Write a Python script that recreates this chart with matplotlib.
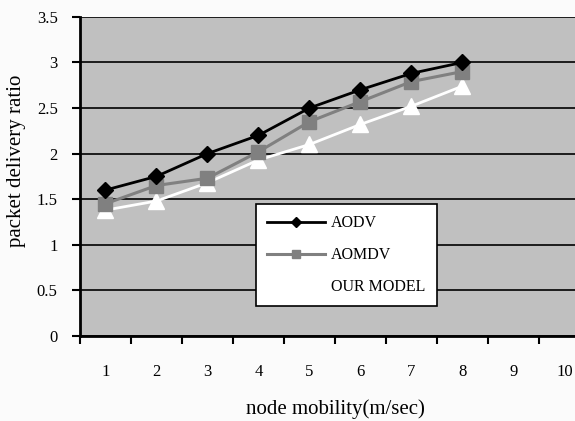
import matplotlib.pyplot as plt

mobility = [1, 2, 3, 4, 5, 6, 7, 8]
categories = [1, 2, 3, 4, 5, 6, 7, 8, 9, 10]
aodv = [1.6, 1.75, 2.0, 2.2, 2.5, 2.7, 2.88, 3.0]
aomdv = [1.45, 1.65, 1.73, 2.02, 2.35, 2.57, 2.79, 2.9]
our_model = [1.38, 1.48, 1.68, 1.93, 2.1, 2.32, 2.52, 2.74]
yticks = [0, 0.5, 1, 1.5, 2, 2.5, 3, 3.5]


def plot_chart():
    plt.rcParams['font.family'] = ['Liberation Serif', 'DejaVu Serif']
    fig = plt.figure(figsize=(5.75, 4.21), dpi=100, facecolor='#fbfbfb')
    ax = fig.add_axes([0.139, 0.202, 0.887, 0.758])
    ax.set_facecolor('#c0c0c0')

    ax.plot(mobility, aodv, color='black', lw=2, marker='D', ms=8.5,
            label='AODV', zorder=4)
    ax.plot(mobility, aomdv, color='#808080', lw=2.2, marker='s', ms=10,
            label='AOMDV', zorder=3)
    ax.plot(mobility, our_model, color='white', lw=2, marker='^', ms=11,
            label='OUR MODEL', zorder=2)

    ax.set_ylim(0, 3.5)
    ax.set_yticks(yticks)
    ax.set_yticklabels([('%g' % v) for v in yticks], fontsize=12)
    ax.yaxis.grid(True, color='black', lw=1.2)
    ax.set_axisbelow(True)

    ax.set_xlim(0.5, 10.5)
    ax.set_xticks([c + 0.5 for c in [0] + categories])
    ax.set_xticklabels([])
    ax.set_xticks(categories, minor=True)
    ax.set_xticklabels([str(c) for c in categories], minor=True, fontsize=12)
    ax.tick_params(axis='x', which='major', length=6, width=1.5, direction='out')
    ax.tick_params(axis='x', which='minor', length=0, pad=20)
    ax.tick_params(axis='y', length=6, width=1.5, pad=10)

    for side in ['top', 'right']:
        ax.spines[side].set_visible(False)
    ax.spines['left'].set_linewidth(2)
    ax.spines['bottom'].set_linewidth(2)

    ax.set_xlabel('node mobility(m/sec)', fontsize=15, labelpad=14)
    ax.set_ylabel('packet delivery ratio', fontsize=15)
    ax.yaxis.set_label_coords(-0.105, 0.55)

    leg = ax.legend(loc='lower left', bbox_to_anchor=(0.33, 0.068),
                    fontsize=11.5, frameon=True, fancybox=False,
                    edgecolor='black', facecolor='white', framealpha=1,
                    markerscale=0.55, handlelength=3.6, handletextpad=0.4,
                    borderpad=0.7, labelspacing=1.0)
    leg.get_frame().set_linewidth(1.2)

    fig.savefig('out.png', dpi=100, facecolor=fig.get_facecolor())


def main():
    plot_chart()


if __name__ == '__main__':
    main()
